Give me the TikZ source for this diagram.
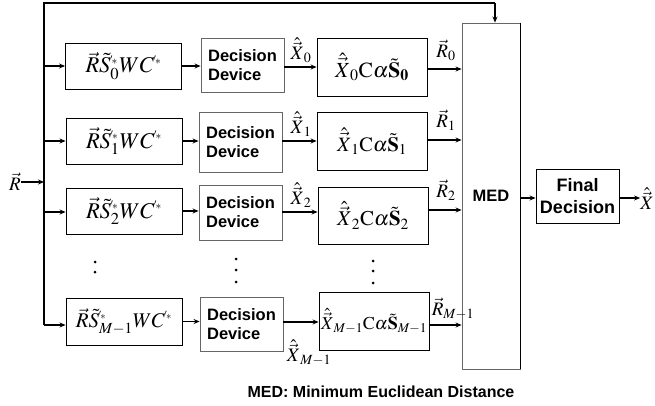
\documentclass[tikz,border=0pt]{standalone}
\usepackage[no-math]{fontspec}
\usepackage{mathptmx}
\usepackage{graphicx}
\setmainfont{Liberation Serif}
\setsansfont{Liberation Sans}
\usetikzlibrary{arrows.meta}
\newcommand{\pst}{^{\mbox{\fontsize{10}{10}\selectfont\kern-0.5pt$'\!\ast$}}}
\newcommand{\pstsub}[1]{_{#1}^{\mbox{\fontsize{10}{10}\selectfont\kern-0.5pt$'\!\ast$}}}
\newcommand{\fitw}[2]{\resizebox{#1}{!}{$#2$}}
\tikzset{
  blk/.style={draw, line width=0.9pt, inner sep=0pt, anchor=center},
  grayblk/.style={draw=black!60, line width=0.9pt, inner sep=0pt, anchor=center},
  sans/.style={font=\sffamily\bfseries\fontsize{16.5}{19}\selectfont, align=left},
  mth/.style={font=\fontsize{19.5}{21}\selectfont},
  arr/.style={line width=1.4pt, -{Stealth[length=6pt,width=5pt]}},
  ln/.style={line width=1.4pt},
  lbl/.style={font=\fontsize{19}{21}\selectfont, inner sep=0pt},
  dot/.style={circle, fill=black, inner sep=0pt, minimum size=3pt}
}
\begin{document}
\begin{tikzpicture}[x=1pt,y=-1pt]
\useasboundingbox (0,0) rectangle (655,406);
% column 1
\node[blk, minimum width=116pt, minimum height=46pt, mth] (A0) at (123.5,66) {\fitw{76pt}{\vec{R}\tilde{S}\pstsub{0}WC\pst}};
\node[blk, minimum width=116pt, minimum height=46pt, mth] (A1) at (124,141) {\fitw{76pt}{\vec{R}\tilde{S}\pstsub{1}WC\pst}};
\node[blk, minimum width=116pt, minimum height=46pt, mth] (A2) at (124,211) {\fitw{76pt}{\vec{R}\tilde{S}\pstsub{2}WC\pst}};
\node[blk, minimum width=116pt, minimum height=47pt, mth] (A3) at (124,321.5) {\fitw{96pt}{\vec{R}\tilde{S}\pstsub{M-1}WC\pst}};
% column 2
\node[grayblk, minimum width=83pt, minimum height=54pt, sans] (D0) at (242.5,65) {Decision\\Device};
\node[grayblk, minimum width=83pt, minimum height=60pt, sans] (D1) at (240.5,142) {Decision\\Device};
\node[grayblk, minimum width=83pt, minimum height=55pt, sans] (D2) at (240.5,212.5) {Decision\\Device};
\node[grayblk, minimum width=83pt, minimum height=54pt, sans] (D3) at (241.5,324) {Decision\\Device};
% column 3
\node[blk, minimum width=110pt, minimum height=58pt, mth] (C0) at (372,67) {\fitw{74pt}{\hat{\vec{X}}_0\mathrm{C}\alpha\tilde{\mathbf{S}}_{\mathbf{0}}}};
\node[blk, minimum width=110pt, minimum height=58pt, mth] (C1) at (372,141) {\fitw{70pt}{\hat{\vec{X}}_1\mathrm{C}\alpha\tilde{\mathbf{S}}_1}};
\node[blk, minimum width=110pt, minimum height=57pt, mth] (C2) at (373,215.5) {\fitw{72pt}{\hat{\vec{X}}_2\mathrm{C}\alpha\tilde{\mathbf{S}}_2}};
\node[blk, minimum width=110pt, minimum height=58pt, mth] (C3) at (374,321) {\fitw{106pt}{\hat{\vec{X}}_{M-1}\mathrm{C}\alpha\tilde{\mathbf{S}}_{M-1}}};
% MED and final
\node[grayblk, minimum width=58pt, minimum height=346pt, sans] (MED) at (491,196) {MED};
\draw[line width=1.2pt] (MED.north east) -- (MED.south east);
\node[blk, minimum width=83pt, minimum height=54pt, sans, align=center, font=\sffamily\bfseries\fontsize{18}{22}\selectfont] (F) at (577.5,196) {Final\\Decision};
% input and bus
\node[lbl] (R) at (15,182) {$\vec{R}$};
\coordinate (busT) at (44,3);
\coordinate (busB) at (44,325);
\coordinate (topR) at (495,3);
\coordinate (busR) at (44,182);
\draw[ln] (busB) -- (busT) -- (topR);
\draw[arr] (topR) -- (topR |- MED.north);
\draw[arr] (R.east) -- (busR);
\foreach \i/\y in {0/66,1/141,2/212,3/325} {
  \draw[arr] (44,\y) -- (A\i.west |- 0,\y);
}
% A -> D
\draw[arr] (A0.east) -- (D0.west |- A0.east);
\draw[arr] (A1.east) -- (D1.west |- A1.east);
\draw[arr] (A2.east) -- (D2.west |- A2.east);
\draw[arr] (A3.east) -- (D3.west |- A3.east);
% D -> C
\draw[arr] (D0.east |- 0,67) -- (C0.west |- 0,67);
\draw[arr] (D1.east |- 0,141) -- (C1.west |- 0,141);
\draw[arr] (D2.east |- 0,212) -- (C2.west |- 0,212);
\draw[arr] (D3.east |- 0,322) -- (C3.west |- 0,322);
% C -> MED
\draw[arr] (C0.east |- 0,69) -- (MED.west |- 0,69);
\draw[arr] (C1.east |- 0,140) -- (MED.west |- 0,140);
\draw[arr] (C2.east |- 0,210) -- (MED.west |- 0,210);
\draw[arr] (C3.east |- 0,325) -- (MED.west |- 0,325);
% MED -> Final -> out
\draw[arr] (MED.east |- 0,198) -- (F.west |- 0,198);
\node[lbl] (Xout) at (647,199) {$\hat{\vec{X}}$};
\draw[arr] (F.east |- 0,198) -- (Xout.west |- 0,198);
% labels
\node[lbl] (x0) at (301,50) {$\hat{\vec{X}}_0$};
\node[lbl] (x1) at (301,124) {$\hat{\vec{X}}_1$};
\node[lbl] (x2) at (301,195) {$\hat{\vec{X}}_2$};
\node[lbl] (x3) at (309,353) {$\hat{\vec{X}}_{M-1}$};
\node[lbl] (r0) at (446,50) {$\vec{R}_0$};
\node[lbl] (r1) at (446,120) {$\vec{R}_1$};
\node[lbl] (r2) at (446,190) {$\vec{R}_2$};
\node[lbl] (r3) at (453,309) {$\vec{R}_{M-1}$};
% dots
\node[dot] (d1) at (95,262) {};
\node[dot] (d2) at (95,272) {};
\node[dot] (d3) at (236,259) {};
\node[dot] (d4) at (236,270) {};
\node[dot] (d5) at (236,282) {};
\node[dot] (d6) at (373,261) {};
\node[dot] (d7) at (373,271) {};
\node[dot] (d8) at (373,283) {};
% caption
\node[font=\sffamily\bfseries\fontsize{16}{18}\selectfont] (cap) at (381,392) {MED: Minimum Euclidean Distance};
\end{tikzpicture}
\end{document}
